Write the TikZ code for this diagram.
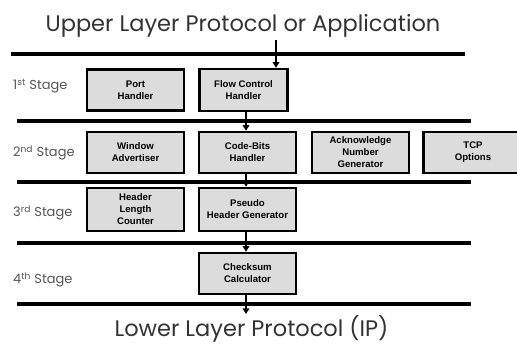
\documentclass[tikz,border=0pt]{standalone}
\usepackage{fontspec}
\setmainfont{Liberation Sans}
\newfontfamily\titlefont{Poppins}
\usetikzlibrary{arrows.meta}
\definecolor{boxgray}{HTML}{DCDCDC}
\definecolor{txtgray}{HTML}{333333}
\definecolor{stagegray}{HTML}{555555}
\tikzset{
  procbox/.style={draw=black, line width=2.5pt, fill=boxgray, font=\bfseries\fontsize{9.6}{12}\selectfont, align=center, inner sep=0pt},
  stagelabel/.style={font=\titlefont\fontsize{13}{15}\selectfont, text=stagegray, anchor=west, inner sep=0pt},
  sepline/.style={line width=3.3pt},
  flow/.style={line width=2.3pt, -{Triangle[length=5.5pt,width=6.5pt]}},
  title/.style={font=\titlefont\fontsize{22.5}{25}\selectfont, text=txtgray, inner sep=0pt, anchor=base}
}
\begin{document}
\begin{tikzpicture}[x=1pt,y=-1pt]
\useasboundingbox (0,0) rectangle (517,344);
% titles
\node[title] (upper) at (243,32) {Upper Layer Protocol or Application};
\node[title] (lower) at (251.5,336.5) {Lower Layer Protocol (IP)};
% separator lines
\coordinate (l1a) at (11,54);  \coordinate (l1b) at (465,54);
\coordinate (l2a) at (17,121); \coordinate (l2b) at (471,121);
\coordinate (l3a) at (17,182); \coordinate (l3b) at (471,182);
\coordinate (l4a) at (17,243); \coordinate (l4b) at (471,243);
\coordinate (l5a) at (17,304); \coordinate (l5b) at (471,304);
\foreach \i in {1,...,5} \draw[sepline] (l\i a) -- (l\i b);
% stage labels
\node[stagelabel] (s1) at (13,86) {1\textsuperscript{st} Stage};
\node[stagelabel] (s2) at (13,153) {2\textsuperscript{nd} Stage};
\node[stagelabel] (s3) at (13,213) {3\textsuperscript{rd} Stage};
\node[stagelabel] (s4) at (13,280) {4\textsuperscript{th} Stage};
% boxes
\node[procbox, minimum width=97pt, minimum height=41pt] (port) at (135.5,90) {Port\\Handler};
\node[procbox, minimum width=88pt, minimum height=42pt] (flow) at (243.5,90) {Flow Control\\Handler};
\node[procbox, minimum width=97pt, minimum height=41pt] (win) at (135.5,152.5) {Window\\Advertiser};
\node[procbox, minimum width=97pt, minimum height=41pt] (code) at (247.5,152.5) {Code-Bits\\Handler};
\node[procbox, minimum width=97pt, minimum height=41pt] (ack) at (360.5,152.5) {Acknowledge\\Number\\Generator};
\node[procbox, minimum width=99pt, minimum height=41pt] (tcp) at (473,152.5) {TCP\\Options};
\node[procbox, minimum width=97pt, minimum height=43pt] (hlen) at (135.5,209.5) {Header\\Length\\Counter};
\node[procbox, minimum width=97pt, minimum height=43pt] (pseudo) at (247.5,209.5) {Pseudo\\Header Generator};
\node[procbox, minimum width=97pt, minimum height=41pt] (chk) at (247.5,273.5) {Checksum\\Calculator};
% arrows
\coordinate (in) at (276,40);
\coordinate (out) at (246,314);
\draw[flow] (in) -- (in |- flow.north);
\draw[flow] (flow.south -| 246,0) -- (code.north -| 246,0);
\draw[flow] (code.south -| 246,0) -- (pseudo.north -| 246,0);
\draw[flow] (pseudo.south -| 246,0) -- (chk.north -| 246,0);
\draw[flow] (chk.south -| 246,0) -- (out);
\end{tikzpicture}
\end{document}
